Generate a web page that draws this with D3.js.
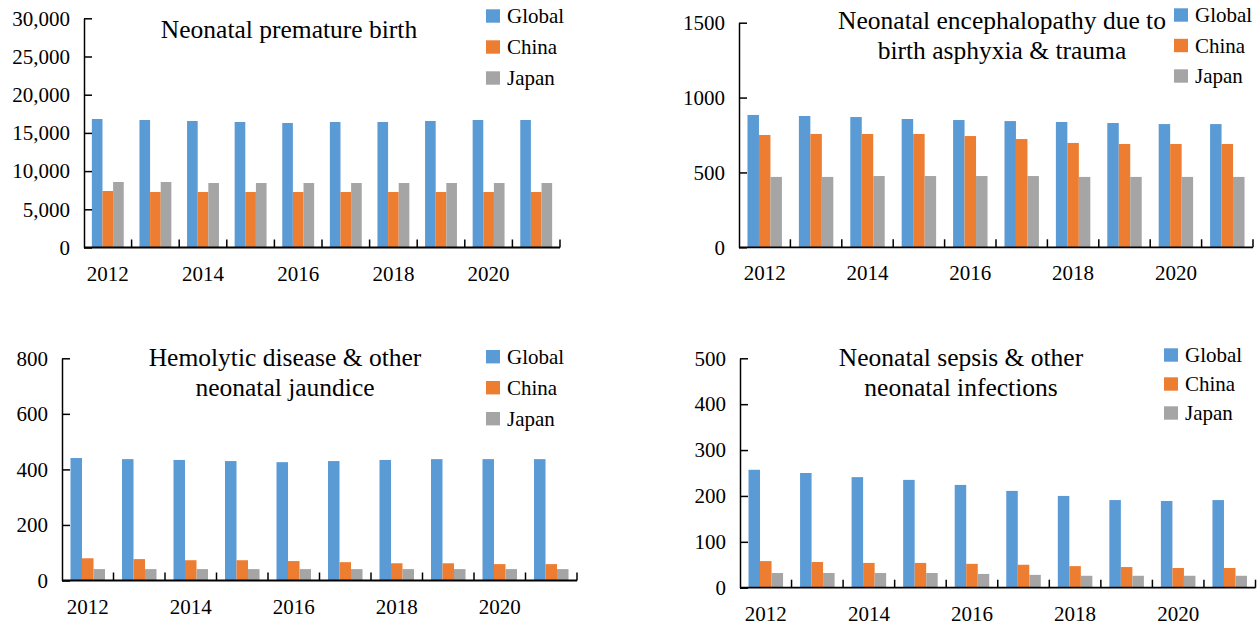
<!DOCTYPE html>
<html>
<head>
<meta charset="utf-8">
<script src="https://cdn.jsdelivr.net/npm/d3@7"></script>
<style>
  html, body { margin: 0; padding: 0; background: #fff; }
  svg { display: block; }
  text { font-family: "Liberation Serif", "Times New Roman", serif; fill: #000; }
</style>
</head>
<body>
<svg id="chart" width="1258" height="626"></svg>
<script>
// ---------- data ----------
const years = [2012, 2013, 2014, 2015, 2016, 2017, 2018, 2019, 2020, 2021];
const yearLabels = ["2012", "2014", "2016", "2018", "2020"];
const seriesNames = ["Global", "China", "Japan"];
const seriesColors = ["#5B9BD5", "#ED7D31", "#A5A5A5"];

const prematureGlobal = [16820, 16690, 16560, 16430, 16300, 16430, 16430, 16560, 16690, 16690];
const prematureChina  = [7395, 7265, 7265, 7265, 7265, 7265, 7265, 7265, 7265, 7265];
const prematureJapan  = [8573, 8573, 8443, 8443, 8443, 8443, 8443, 8443, 8443, 8443];
const prematureTicks  = [0, 5000, 10000, 15000, 20000, 25000, 30000];

const encephGlobal = [884, 877, 870, 857, 850, 843, 837, 830, 823, 823];
const encephChina  = [750, 757, 757, 757, 743, 723, 697, 690, 690, 690];
const encephJapan  = [470, 470, 476, 476, 476, 476, 470, 470, 470, 470];
const encephTicks  = [0, 500, 1000, 1500];

const hemolyticGlobal = [441, 437, 434, 430, 426, 430, 434, 437, 437, 437];
const hemolyticChina  = [80, 77, 73, 73, 70, 66, 62, 62, 59, 59];
const hemolyticJapan  = [41, 41, 41, 41, 41, 41, 41, 41, 41, 41];
const hemolyticTicks  = [0, 200, 400, 600, 800];

const sepsisGlobal = [257, 250, 241, 235, 224, 211, 200, 191, 189, 191];
const sepsisChina  = [58, 56, 54, 54, 52, 50, 47, 45, 43, 43];
const sepsisJapan  = [32, 32, 32, 32, 30, 28, 26, 26, 26, 26];
const sepsisTicks  = [0, 100, 200, 300, 400, 500];

// ---------- layout ----------
const panels = [
  { title: ["Neonatal premature birth"], titleX: 289, titleY: 38,
    series: [prematureGlobal, prematureChina, prematureJapan], ticks: prematureTicks, fmt: d3.format(","),
    x0: 84, x1: 560, yBottom: 247.5, yTop: 18.3, legX: 486, legY: 9.3, legStep: 31 },
  { title: ["Neonatal encephalopathy due to", "birth asphyxia & trauma"], titleX: 1002, titleY: 29.3,
    series: [encephGlobal, encephChina, encephJapan], ticks: encephTicks, fmt: d3.format("d"),
    x0: 739, x1: 1253, yBottom: 247.3, yTop: 22.7, legX: 1174, legY: 8.3, legStep: 30.5 },
  { title: ["Hemolytic disease & other", "neonatal jaundice"], titleX: 285, titleY: 366,
    series: [hemolyticGlobal, hemolyticChina, hemolyticJapan], ticks: hemolyticTicks, fmt: d3.format("d"),
    x0: 62, x1: 577, yBottom: 580.5, yTop: 358.3, legX: 486, legY: 350, legStep: 31 },
  { title: ["Neonatal sepsis & other", "neonatal infections"], titleX: 961, titleY: 365.7,
    series: [sepsisGlobal, sepsisChina, sepsisJapan], ticks: sepsisTicks, fmt: d3.format("d"),
    x0: 740, x1: 1255.5, yBottom: 587.7, yTop: 358.3, legX: 1164, legY: 348.3, legStep: 29 }
];

const svg = d3.select("#chart");
const FONT = "Liberation Serif, Times New Roman, serif";

panels.forEach(p => {
  const g = svg.append("g");

  const x = d3.scaleBand().domain(years).range([p.x0, p.x1]).paddingInner(0.33).paddingOuter(0.165);
  const xs = d3.scaleBand().domain(seriesNames).range([0, x.bandwidth()]);
  const y = d3.scaleLinear().domain([0, d3.max(p.ticks)]).range([p.yBottom, p.yTop]);

  // bars
  p.series.forEach((vals, si) => {
    g.append("g").selectAll("rect")
      .data(vals.map((v, i) => ({ year: years[i], v })))
      .join("rect")
      .attr("x", d => x(d.year) + xs(seriesNames[si]))
      .attr("width", xs.bandwidth())
      .attr("y", d => y(d.v))
      .attr("height", d => y(0) - y(d.v))
      .attr("fill", seriesColors[si]);
  });

  // y axis
  const ya = g.append("g")
    .attr("transform", `translate(${p.x0},0)`)
    .call(d3.axisLeft(y).tickValues(p.ticks).tickFormat(p.fmt).tickSizeInner(-8).tickSizeOuter(0).tickPadding(14));
  ya.selectAll("path, line").attr("stroke", "#000").attr("stroke-width", 1.5);
  ya.selectAll("text").attr("font-family", FONT).attr("font-size", 21).attr("fill", "#000");

  // x axis line + boundary ticks
  const step = x.step();
  const start = x.range()[0];
  const bounds = d3.range(years.length + 1).map(i => start + i * step);
  g.append("line")
    .attr("x1", p.x0).attr("x2", p.x1)
    .attr("y1", y(0)).attr("y2", y(0))
    .attr("stroke", "#000").attr("stroke-width", 1.8);
  g.append("g").selectAll("line")
    .data(bounds.slice(1))
    .join("line")
    .attr("x1", d => d).attr("x2", d => d)
    .attr("y1", y(0)).attr("y2", y(0) - 8)
    .attr("stroke", "#000").attr("stroke-width", 1.5);

  // x labels
  g.append("g").selectAll("text")
    .data(yearLabels)
    .join("text")
    .attr("x", d => x(+d) + x.bandwidth() / 2)
    .attr("y", y(0) + 33)
    .attr("text-anchor", "middle")
    .attr("font-size", 21)
    .text(d => d);

  // title
  const t = g.append("text")
    .attr("x", p.titleX).attr("y", p.titleY)
    .attr("text-anchor", "middle")
    .attr("font-size", 25.5);
  p.title.forEach((line, i) => {
    t.append("tspan").attr("x", p.titleX).attr("dy", i === 0 ? 0 : 30).text(line);
  });

  // legend
  const leg = g.append("g");
  seriesNames.forEach((name, i) => {
    const ly = p.legY + i * p.legStep;
    leg.append("rect")
      .attr("x", p.legX).attr("y", ly)
      .attr("width", 14).attr("height", 13.4)
      .attr("fill", seriesColors[i]);
    leg.append("text")
      .attr("x", p.legX + 21).attr("y", ly + 6.7 + 7.2)
      .attr("font-size", 21)
      .text(name);
  });
});
</script>
</body>
</html>
